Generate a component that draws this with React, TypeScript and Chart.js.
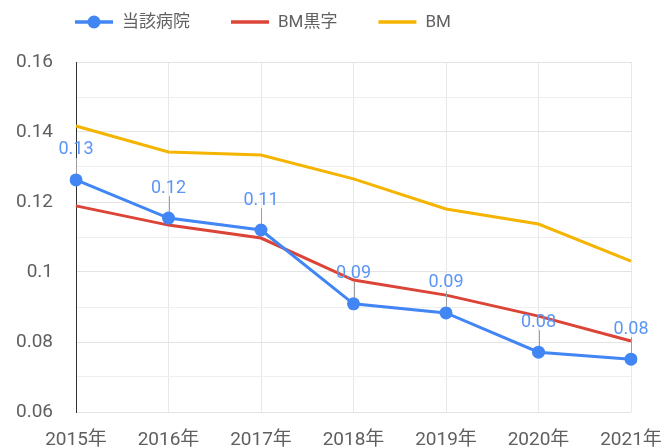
import React, { useEffect, useRef } from "react";
import { Chart, registerables } from "chart.js";

Chart.register(...registerables);

const categories = ["2015年", "2016年", "2017年", "2018年", "2019年", "2020年", "2021年"];
const hospital = [0.1263, 0.1154, 0.112, 0.0909, 0.0883, 0.0771, 0.0751];
const bmProfit = [0.1189, 0.1134, 0.1097, 0.0977, 0.0934, 0.0874, 0.0803];
const bm = [0.1417, 0.1343, 0.1334, 0.1266, 0.118, 0.1137, 0.1031];
const seriesNames = ["当該病院", "BM黒字", "BM"];
const yMin = 0.06;
const yMax = 0.16;

const FONT = "Roboto, 'Noto Sans CJK JP', sans-serif";
const BLUE = "#4285f4";
const RED = "#db4437";
const ORANGE = "#f4b400";

const labelPlugin = {
  id: "pointLabels",
  afterDatasetsDraw(chart: any) {
    const meta = chart.getDatasetMeta(0);
    const ctx = chart.ctx;
    ctx.save();
    meta.data.forEach((el: any, i: number) => {
      const v = chart.data.datasets[0].data[i] as number;
      const x = el.x;
      const y = el.y;
      ctx.strokeStyle = "#9e9e9e";
      ctx.lineWidth = 1;
      ctx.beginPath();
      ctx.moveTo(Math.round(x) + 0.5, y - 22);
      ctx.lineTo(Math.round(x) + 0.5, y - 6);
      ctx.stroke();
      ctx.fillStyle = "#5b95f6";
      ctx.font = `18px ${FONT}`;
      ctx.textAlign = "center";
      ctx.textBaseline = "middle";
      ctx.fillText(v.toFixed(2), x, y - 30);
    });
    ctx.restore();
  },
};

const legendPlugin = {
  id: "customLegend",
  afterDraw(chart: any) {
    const ctx = chart.ctx;
    const colors = [BLUE, RED, ORANGE];
    ctx.save();
    ctx.font = `17px ${FONT}`;
    ctx.textBaseline = "middle";
    ctx.textAlign = "left";
    let x = 75;
    const y = 22;
    seriesNames.forEach((name, i) => {
      ctx.strokeStyle = colors[i];
      ctx.lineWidth = 3.5;
      ctx.beginPath();
      ctx.moveTo(x, y);
      ctx.lineTo(x + 38, y);
      ctx.stroke();
      if (i === 0) {
        ctx.fillStyle = colors[i];
        ctx.beginPath();
        ctx.arc(x + 19, y, 6.5, 0, Math.PI * 2);
        ctx.fill();
      }
      ctx.fillStyle = "#616161";
      ctx.fillText(name, x + 47, y + 1);
      x += 47 + ctx.measureText(name).width + 41;
    });
    ctx.restore();
  },
};

export default function App() {
  const ref = useRef<HTMLCanvasElement | null>(null);
  useEffect(() => {
    document.body.style.margin = "0";
    const canvas = ref.current!;
    const chart = new Chart(canvas, {
      type: "line",
      data: {
        labels: categories,
        datasets: [
          {
            label: seriesNames[0],
            data: hospital,
            borderColor: BLUE,
            backgroundColor: BLUE,
            borderWidth: 3,
            pointRadius: 6.5,
            pointHoverRadius: 6.5,
            pointBorderWidth: 0,
            tension: 0,
          },
          {
            label: seriesNames[1],
            data: bmProfit,
            borderColor: RED,
            backgroundColor: RED,
            borderWidth: 3,
            pointRadius: 0,
            tension: 0,
          },
          {
            label: seriesNames[2],
            data: bm,
            borderColor: ORANGE,
            backgroundColor: ORANGE,
            borderWidth: 3,
            pointRadius: 0,
            tension: 0,
          },
        ],
      },
      options: {
        responsive: false,
        animation: false,
        layout: { padding: { top: 62, right: 35, left: 0, bottom: 0 } },
        plugins: {
          legend: { display: false },
          tooltip: { enabled: false },
          title: { display: false },
        },
        scales: {
          x: {
            offset: false,
            grid: { color: "#e8e8e8", drawTicks: false },
            border: { display: false },
            ticks: {
              color: "#5f5f5f",
              font: { family: FONT, size: 19 },
              padding: 17,
              maxRotation: 0,
              autoSkip: false,
            },
            afterFit(scale: any) {
              scale.height = 36;
              scale.paddingLeft = 0;
              scale.paddingRight = 0;
            },
          },
          y: {
            min: yMin,
            max: yMax,
            grid: {
              drawTicks: false,
              color: (c: any) =>
                Math.round((c.tick?.value ?? 0) * 100) % 2 === 0 ? "#e3e3e3" : "#efefef",
            },
            border: { display: true, color: "#333333", width: 1 },
            ticks: {
              stepSize: 0.01,
              color: "#5f5f5f",
              font: { family: FONT, size: 19 },
              padding: 23,
              autoSkip: false,
              callback: (v: any) => {
                const n = Math.round(Number(v) * 100);
                return n % 2 === 0 ? String(n / 100) : "";
              },
            },
            afterFit(scale: any) {
              scale.width = 76;
              scale.paddingTop = 0;
              scale.paddingBottom = 0;
            },
          },
        },
      },
      plugins: [labelPlugin, legendPlugin],
    });
    return () => chart.destroy();
  }, []);
  return (
    <div style={{ width: 666, height: 448 }}>
      <canvas ref={ref} width={666} height={448} />
    </div>
  );
}
